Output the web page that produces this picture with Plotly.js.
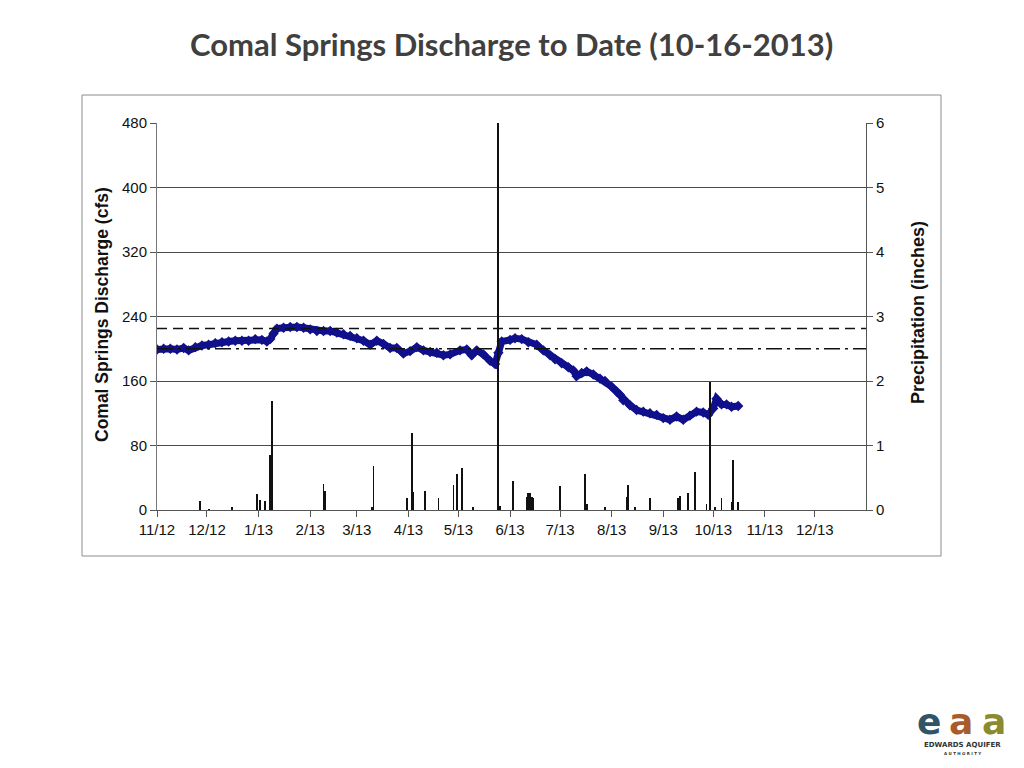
<!DOCTYPE html>
<html>
<head>
<meta charset="utf-8">
<script src="https://cdn.plot.ly/plotly-3.0.1.min.js"></script>
<style>
html,body{margin:0;padding:0;background:#fff;}
#chart{width:1024px;height:768px;}
</style>
</head>
<body>
<div id="chart"></div>
<script>
// Discharge (cfs) readings
const dischargeDates = [
'2012-11-01','2012-11-05','2012-11-09','2012-11-13','2012-11-17','2012-11-20','2012-11-24','2012-11-28',
'2012-12-02','2012-12-06','2012-12-10','2012-12-14','2012-12-18','2012-12-22','2012-12-26','2012-12-30',
'2013-01-03','2013-01-06','2013-01-08','2013-01-10','2013-01-12','2013-01-16','2013-01-20','2013-01-24','2013-01-28',
'2013-02-01','2013-02-05','2013-02-09','2013-02-13','2013-02-17','2013-02-21','2013-02-25',
'2013-03-01','2013-03-05','2013-03-09','2013-03-13','2013-03-17','2013-03-21','2013-03-25','2013-03-29',
'2013-04-02','2013-04-06','2013-04-10','2013-04-14','2013-04-18','2013-04-22','2013-04-26',
'2013-05-02','2013-05-06','2013-05-09','2013-05-12','2013-05-16','2013-05-20','2013-05-23','2013-05-25','2013-05-27',
'2013-06-01','2013-06-04','2013-06-08','2013-06-12','2013-06-17','2013-06-21','2013-06-25','2013-06-28',
'2013-07-02','2013-07-06','2013-07-09','2013-07-11','2013-07-14','2013-07-17','2013-07-21','2013-07-25','2013-07-28',
'2013-08-01','2013-08-04','2013-08-06','2013-08-08','2013-08-12','2013-08-16','2013-08-20','2013-08-24','2013-08-28',
'2013-09-01','2013-09-05','2013-09-09','2013-09-13','2013-09-17','2013-09-21','2013-09-25','2013-09-28',
'2013-10-01','2013-10-03','2013-10-06','2013-10-09','2013-10-12','2013-10-16'
];
const dischargeCfs = [
199,200,200,199,201,198,202,204,
205,207,208,209,210,210,210,212,
211,209,212,219,225,226,227,227,226,
224,222,222,222,220,218,216,
213,210,205,210,206,201,201,194,
197,202,198,196,195,192,193,
198,199,192,198,193,185,181,195,209,
211,213,212,208,205,198,192,187,
182,177,173,166,170,172,168,163,160,
153,147,143,136,130,124,122,120,118,
114,112,116,112,117,122,121,118,
126,138,131,131,128,129
];

// Daily precipitation (inches)
const precipDates = [
'2012-11-27','2012-12-02','2012-12-16','2012-12-31','2013-01-02','2013-01-05','2013-01-08','2013-01-09',
'2013-02-09','2013-02-10','2013-03-10','2013-03-11','2013-03-31','2013-04-03','2013-04-04','2013-04-11',
'2013-04-19','2013-04-28','2013-04-30','2013-05-03','2013-05-10','2013-05-25','2013-05-26','2013-06-03',
'2013-06-11','2013-06-12','2013-06-13','2013-06-14','2013-06-15','2013-07-01','2013-07-16','2013-07-17',
'2013-07-28','2013-08-10','2013-08-11','2013-08-15','2013-08-24','2013-09-10','2013-09-11','2013-09-16',
'2013-09-20','2013-09-27','2013-09-29','2013-10-02','2013-10-06','2013-10-12','2013-10-13','2013-10-16'
];
const precipInches = [
0.14,0.02,0.04,0.25,0.15,0.14,0.85,1.69,
0.40,0.30,0.05,0.68,0.18,1.20,0.28,0.30,
0.18,0.39,0.56,0.65,0.04,6.5,0.06,0.45,
0.20,0.27,0.27,0.20,0.18,0.37,0.56,0.09,
0.04,0.20,0.39,0.05,0.18,0.18,0.22,0.27,
0.59,0.09,1.99,0.05,0.18,0.12,0.78,0.13
];

// Reference levels (cfs)
const upperLevel = 225;
const lowerLevel = 200;

const L = 157, R = 866, T = 123, B = 510;
const px = x => (x - L) / (R - L);
const py = y => (B - y) / (B - T);

const FONT = '"Liberation Sans", Arial, sans-serif';

const traces = [
  {
    x: precipDates, y: precipInches, type: 'bar', yaxis: 'y2',
    width: 86400000 * 1.1,
    marker: {color: '#111', line: {width: 0}},
    hoverinfo: 'x+y', showlegend: false
  },
  {
    x: dischargeDates, y: dischargeCfs, type: 'scatter', mode: 'lines+markers',
    line: {color: '#10108c', width: 7},
    marker: {color: '#10108c', size: 8, symbol: 'diamond'},
    showlegend: false
  }
];

const layout = {
  width: 1024, height: 768,
  paper_bgcolor: '#fff', plot_bgcolor: '#fff',
  margin: {l: L, r: 1024 - R, t: T, b: 768 - B, pad: 0},
  showlegend: false,
  bargap: 0,
  font: {family: FONT, color: '#111', size: 15},
  xaxis: {
    type: 'date',
    range: ['2012-11-01', '2013-12-31 18:00'],
    tick0: '2012-11-01', dtick: 'M1', tickformat: '%-m/%y',
    ticks: 'outside', ticklen: 6, tickcolor: '#555', tickwidth: 1,
    showgrid: false, zeroline: false,
    showline: true, linecolor: '#555', linewidth: 1,
    tickfont: {family: FONT, size: 15, color: '#111'}
  },
  yaxis: {
    range: [0, 480], dtick: 80, tick0: 0,
    ticks: 'outside', ticklen: 6, tickcolor: '#555',
    showgrid: true, gridcolor: '#4a4a4a', gridwidth: 1,
    zeroline: false, showline: true, linecolor: '#777', linewidth: 1,
    tickfont: {family: FONT, size: 15, color: '#111'}
  },
  yaxis2: {
    range: [0, 6], dtick: 1, tick0: 0, overlaying: 'y', side: 'right',
    ticks: 'outside', ticklen: 6, tickcolor: '#555',
    showgrid: false, zeroline: false, showline: true, linecolor: '#555', linewidth: 1,
    tickfont: {family: FONT, size: 15, color: '#111'}
  },
  shapes: [
    {type: 'line', xref: 'paper', yref: 'y', x0: 0, x1: 1, y0: upperLevel, y1: upperLevel,
     line: {color: '#111', width: 1.5, dash: '10px,6px'}},
    {type: 'line', xref: 'paper', yref: 'y', x0: 0, x1: 1, y0: lowerLevel, y1: lowerLevel,
     line: {color: '#111', width: 1.5, dash: '16px,5px,3px,5px'}},
    {type: 'rect', xref: 'paper', yref: 'paper', x0: px(82), x1: px(941), y0: py(556), y1: py(95),
     line: {color: '#8c8c8c', width: 1}, fillcolor: 'rgba(0,0,0,0)', layer: 'below'}
  ],
  annotations: [
    {text: '<b>Comal Springs Discharge to Date (10-16-2013)</b>', xref: 'paper', yref: 'paper',
     x: px(511), y: py(44), xanchor: 'center', yanchor: 'middle', showarrow: false,
     font: {family: 'Lato, Carlito, sans-serif', size: 31, color: '#404040'}},
    {text: '<b>Comal Springs Discharge (cfs)</b>', xref: 'paper', yref: 'paper',
     x: px(102), y: py(315), xanchor: 'center', yanchor: 'middle', textangle: -90, showarrow: false,
     font: {family: FONT, size: 17.5, color: '#111'}},
    {text: '<b>Precipitation (inches)</b>', xref: 'paper', yref: 'paper',
     x: px(918), y: py(313), xanchor: 'center', yanchor: 'middle', textangle: -90, showarrow: false,
     font: {family: FONT, size: 18, color: '#111'}},
    {text: '<b>e</b>', xref: 'paper', yref: 'paper', x: px(929), y: py(721), xanchor: 'center', yanchor: 'middle',
     showarrow: false, font: {family: 'DejaVu Sans, sans-serif', size: 36, color: '#2f5567'}},
    {text: '<b>a</b>', xref: 'paper', yref: 'paper', x: px(961), y: py(721), xanchor: 'center', yanchor: 'middle',
     showarrow: false, font: {family: 'DejaVu Sans, sans-serif', size: 36, color: '#a85c2c'}},
    {text: '<b>a</b>', xref: 'paper', yref: 'paper', x: px(994), y: py(721), xanchor: 'center', yanchor: 'middle',
     showarrow: false, font: {family: 'DejaVu Sans, sans-serif', size: 36, color: '#8c8a2e'}},
    {text: '<b>EDWARDS AQUIFER</b>', xref: 'paper', yref: 'paper', x: px(962), y: py(745), xanchor: 'center', yanchor: 'middle',
     showarrow: false, font: {family: 'DejaVu Sans, sans-serif', size: 7, color: '#333'}},
    {text: '<b>A U T H O R I T Y</b>', xref: 'paper', yref: 'paper', x: px(962), y: py(753), xanchor: 'center', yanchor: 'middle',
     showarrow: false, font: {family: 'DejaVu Sans, sans-serif', size: 4, color: '#333'}}
  ]
};

Plotly.newPlot('chart', traces, layout, {displayModeBar: false, staticPlot: true});
</script>
</body>
</html>
